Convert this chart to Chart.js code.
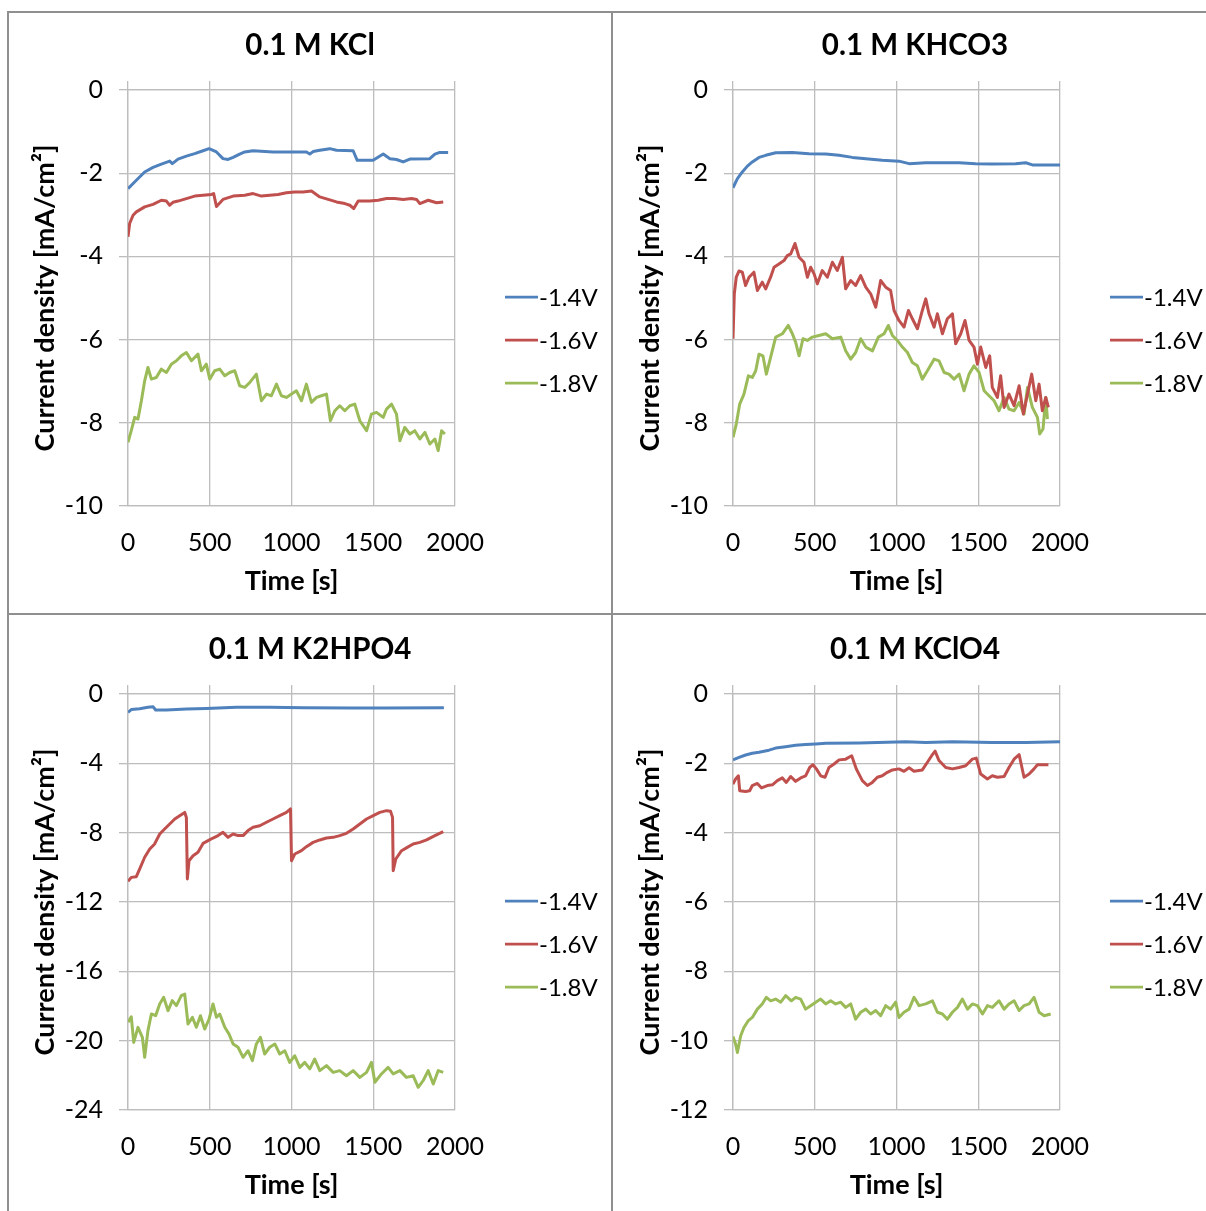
<!DOCTYPE html>
<html>
<head>
<meta charset="utf-8">
<script src="https://cdn.jsdelivr.net/npm/chart.js@4/dist/chart.umd.min.js"></script>
<style>
  html, body { margin: 0; padding: 0; background: #fff; overflow: hidden; width: 1206px; height: 1211px; }
  canvas { position: absolute; }
  .line { position: absolute; background: #8f8f8f; z-index: 2; }
</style>
</head>
<body>
<canvas id="kcl" width="604" height="603" style="left:8px;top:11px"></canvas>
<canvas id="khco3" width="604" height="603" style="left:613px;top:11px"></canvas>
<canvas id="k2hpo4" width="604" height="603" style="left:8px;top:615px"></canvas>
<canvas id="kclo4" width="604" height="603" style="left:613px;top:615px"></canvas>
<div class="line" style="left:7px;top:11px;width:1300px;height:2px"></div>
<div class="line" style="left:7px;top:11px;width:2px;height:1300px"></div>
<div class="line" style="left:611px;top:11px;width:2px;height:1300px"></div>
<div class="line" style="left:7px;top:613px;width:1300px;height:2px"></div>
<script>
// chronoamperometry, [time s, current density mA/cm2]
const seriesLabels = ['-1.4V', '-1.6V', '-1.8V'];
const seriesColors = ['#4F81BD', '#C0504D', '#9BBB59'];

// 0.1 M KCl
const kcl14 = [[0,-2.37],[51,-2.17],[102,-1.97],[153,-1.86],[204,-1.78],[255,-1.71],[271,-1.77],[306,-1.66],[357,-1.59],[408,-1.53],[459,-1.46],[496,-1.41],[541,-1.49],[581,-1.65],[612,-1.67],[643,-1.62],[683,-1.54],[714,-1.49],[765,-1.46],[887,-1.49],[1091,-1.49],[1112,-1.54],[1132,-1.48],[1173,-1.45],[1234,-1.41],[1275,-1.45],[1377,-1.46],[1402,-1.69],[1499,-1.69],[1561,-1.54],[1602,-1.65],[1642,-1.67],[1683,-1.73],[1724,-1.66],[1846,-1.65],[1877,-1.54],[1907,-1.50],[1958,-1.50]];
const kcl16 = [[0,-3.53],[10,-3.21],[31,-3.01],[51,-2.93],[102,-2.81],[153,-2.75],[204,-2.65],[235,-2.67],[255,-2.77],[275,-2.70],[306,-2.67],[357,-2.61],[408,-2.55],[459,-2.53],[510,-2.51],[524,-2.49],[541,-2.80],[581,-2.63],[643,-2.55],[714,-2.53],[765,-2.49],[816,-2.55],[867,-2.53],[918,-2.51],[969,-2.47],[1020,-2.45],[1071,-2.45],[1122,-2.43],[1173,-2.57],[1224,-2.63],[1275,-2.69],[1326,-2.73],[1357,-2.77],[1381,-2.85],[1408,-2.67],[1479,-2.67],[1530,-2.65],[1581,-2.61],[1632,-2.61],[1683,-2.63],[1734,-2.61],[1765,-2.63],[1785,-2.73],[1836,-2.65],[1887,-2.71],[1928,-2.69]];
const kcl18 = [[0,-8.47],[20,-8.19],[41,-7.87],[61,-7.91],[82,-7.47],[102,-6.99],[122,-6.67],[143,-6.95],[173,-6.91],[204,-6.71],[235,-6.79],[265,-6.59],[296,-6.51],[326,-6.39],[357,-6.31],[388,-6.51],[428,-6.35],[449,-6.75],[479,-6.59],[500,-6.95],[530,-6.75],[561,-6.71],[592,-6.87],[622,-6.79],[653,-6.75],[683,-7.11],[714,-7.15],[745,-7.03],[785,-6.83],[816,-7.47],[847,-7.31],[877,-7.35],[908,-7.07],[938,-7.35],[969,-7.39],[1000,-7.31],[1030,-7.23],[1061,-7.47],[1091,-7.07],[1122,-7.51],[1153,-7.39],[1183,-7.35],[1214,-7.31],[1238,-7.95],[1265,-7.71],[1295,-7.59],[1326,-7.71],[1357,-7.59],[1387,-7.55],[1418,-7.95],[1459,-8.19],[1489,-7.79],[1520,-7.75],[1561,-7.87],[1581,-7.67],[1612,-7.55],[1642,-7.79],[1663,-8.43],[1693,-8.11],[1724,-8.27],[1754,-8.19],[1785,-8.39],[1816,-8.23],[1846,-8.51],[1877,-8.39],[1897,-8.67],[1918,-8.19],[1938,-8.27]];

// 0.1 M KHCO3
const khco314 = [[0,-2.35],[27,-2.13],[57,-1.97],[88,-1.83],[118,-1.73],[159,-1.62],[200,-1.57],[261,-1.51],[363,-1.50],[465,-1.53],[567,-1.54],[648,-1.57],[730,-1.62],[812,-1.65],[913,-1.69],[1015,-1.71],[1077,-1.77],[1179,-1.75],[1382,-1.75],[1484,-1.77],[1586,-1.78],[1729,-1.77],[1790,-1.75],[1831,-1.80],[2000,-1.80]];
const khco316 = [[0,-5.98],[8,-4.90],[20,-4.50],[37,-4.35],[57,-4.38],[77,-4.70],[98,-4.50],[128,-4.38],[149,-4.82],[179,-4.62],[200,-4.78],[230,-4.50],[251,-4.26],[281,-4.18],[312,-4.10],[332,-3.98],[353,-3.94],[379,-3.69],[404,-4.02],[434,-4.14],[455,-4.50],[475,-4.26],[496,-4.42],[516,-4.66],[546,-4.34],[577,-4.50],[608,-4.14],[638,-4.34],[669,-4.02],[689,-4.78],[720,-4.58],[750,-4.70],[781,-4.46],[812,-4.74],[842,-4.90],[873,-5.22],[903,-4.58],[934,-4.74],[964,-4.82],[985,-5.30],[1015,-5.54],[1046,-5.70],[1073,-5.30],[1097,-5.50],[1128,-5.74],[1158,-5.30],[1179,-5.02],[1199,-5.38],[1230,-5.70],[1250,-5.38],[1281,-5.86],[1311,-5.50],[1342,-5.38],[1362,-6.10],[1393,-5.86],[1419,-5.54],[1444,-6.02],[1474,-6.18],[1495,-6.59],[1515,-6.18],[1546,-6.67],[1570,-6.39],[1586,-7.15],[1617,-7.39],[1637,-6.87],[1658,-7.63],[1688,-7.31],[1719,-7.59],[1750,-7.11],[1776,-7.79],[1801,-7.31],[1827,-6.83],[1852,-7.47],[1872,-7.07],[1892,-7.71],[1913,-7.39],[1929,-7.63]];
const khco318 = [[0,-8.35],[20,-8.03],[41,-7.55],[67,-7.31],[94,-6.87],[118,-6.91],[139,-6.75],[159,-6.35],[183,-6.39],[204,-6.83],[230,-6.43],[261,-5.94],[302,-5.86],[338,-5.66],[363,-5.86],[383,-6.06],[404,-6.39],[428,-5.98],[455,-6.02],[485,-5.94],[526,-5.90],[567,-5.86],[608,-5.98],[659,-5.94],[689,-6.27],[720,-6.47],[750,-6.31],[781,-5.98],[812,-6.18],[853,-6.27],[889,-5.94],[924,-5.86],[950,-5.66],[975,-5.90],[1005,-6.02],[1036,-6.18],[1067,-6.31],[1097,-6.55],[1128,-6.63],[1158,-6.95],[1189,-6.75],[1230,-6.47],[1260,-6.51],[1291,-6.79],[1321,-6.83],[1352,-6.95],[1383,-6.83],[1413,-7.23],[1444,-6.83],[1474,-6.63],[1505,-6.79],[1536,-7.23],[1566,-7.35],[1597,-7.47],[1627,-7.71],[1658,-7.39],[1688,-7.67],[1719,-7.71],[1750,-7.51],[1780,-7.79],[1801,-7.15],[1831,-7.63],[1862,-7.87],[1876,-8.27],[1896,-8.15],[1913,-7.39],[1923,-7.91]];

// 0.1 M K2HPO4
const k2hpo414 = [[0,-1.06],[20,-0.90],[71,-0.85],[122,-0.77],[153,-0.73],[169,-0.92],[235,-0.92],[357,-0.87],[479,-0.83],[663,-0.77],[867,-0.77],[1071,-0.79],[1377,-0.81],[1581,-0.81],[1932,-0.79]];
const k2hpo416 = [[0,-10.81],[20,-10.58],[51,-10.54],[71,-10.10],[102,-9.42],[133,-8.94],[163,-8.65],[194,-8.08],[224,-7.79],[255,-7.50],[286,-7.21],[316,-7.02],[347,-6.83],[357,-7.12],[363,-10.67],[373,-9.62],[398,-9.33],[428,-9.13],[459,-8.62],[490,-8.46],[520,-8.31],[551,-8.17],[581,-7.98],[612,-8.27],[643,-8.08],[673,-8.17],[704,-8.17],[734,-7.88],[765,-7.69],[806,-7.60],[847,-7.40],[887,-7.21],[928,-7.02],[969,-6.83],[994,-6.63],[1000,-9.62],[1020,-9.23],[1061,-9.04],[1091,-8.81],[1132,-8.56],[1173,-8.42],[1214,-8.31],[1255,-8.27],[1295,-8.17],[1336,-8.04],[1377,-7.79],[1418,-7.50],[1459,-7.21],[1500,-7.02],[1540,-6.83],[1581,-6.73],[1606,-6.77],[1618,-7.12],[1622,-10.19],[1638,-9.52],[1673,-9.04],[1703,-8.88],[1744,-8.65],[1785,-8.56],[1826,-8.42],[1877,-8.17],[1928,-7.94]];
const k2hpo418 = [[0,-18.94],[20,-18.62],[35,-20.10],[61,-19.23],[88,-19.81],[102,-20.96],[122,-19.42],[143,-18.46],[169,-18.56],[194,-17.88],[218,-17.50],[245,-18.27],[271,-17.69],[296,-17.98],[326,-17.40],[347,-17.31],[367,-19.04],[394,-18.65],[418,-19.23],[443,-18.56],[469,-19.33],[496,-18.75],[520,-17.88],[541,-18.65],[561,-18.46],[592,-19.23],[618,-19.62],[643,-20.19],[673,-20.38],[704,-20.96],[734,-20.58],[761,-21.15],[785,-20.19],[810,-19.81],[836,-20.77],[867,-20.38],[898,-20.19],[928,-20.77],[959,-20.58],[989,-21.25],[1020,-20.87],[1051,-21.54],[1081,-21.25],[1112,-21.63],[1142,-21.06],[1173,-21.73],[1214,-21.44],[1255,-21.83],[1295,-21.73],[1336,-22.02],[1377,-21.73],[1418,-22.12],[1459,-21.83],[1489,-21.25],[1510,-22.40],[1550,-21.92],[1591,-21.54],[1622,-21.92],[1663,-21.73],[1703,-22.12],[1744,-22.02],[1775,-22.69],[1805,-22.31],[1836,-21.73],[1867,-22.50],[1897,-21.73],[1928,-21.83]];

// 0.1 M KClO4
const kclo414 = [[0,-1.90],[37,-1.83],[77,-1.76],[118,-1.71],[159,-1.68],[220,-1.62],[261,-1.56],[322,-1.52],[383,-1.48],[444,-1.46],[506,-1.44],[567,-1.42],[771,-1.41],[1056,-1.38],[1179,-1.40],[1342,-1.38],[1586,-1.40],[1790,-1.40],[2000,-1.38]];
const kclo416 = [[0,-2.60],[16,-2.45],[33,-2.36],[41,-2.79],[77,-2.81],[102,-2.79],[118,-2.64],[149,-2.58],[175,-2.71],[210,-2.64],[241,-2.62],[271,-2.50],[302,-2.42],[326,-2.55],[353,-2.38],[383,-2.52],[414,-2.42],[444,-2.36],[469,-2.12],[489,-2.04],[510,-2.16],[536,-2.36],[563,-2.40],[587,-2.12],[618,-2.02],[649,-1.90],[689,-1.88],[726,-1.78],[754,-2.16],[791,-2.50],[822,-2.64],[852,-2.55],[883,-2.40],[913,-2.36],[944,-2.26],[975,-2.19],[1015,-2.16],[1046,-2.23],[1077,-2.13],[1107,-2.23],[1158,-2.19],[1189,-1.97],[1215,-1.78],[1236,-1.65],[1260,-1.92],[1301,-2.12],[1342,-2.16],[1383,-2.12],[1423,-2.07],[1464,-1.88],[1488,-1.85],[1515,-2.31],[1556,-2.45],[1586,-2.36],[1617,-2.40],[1658,-2.38],[1688,-2.12],[1719,-1.88],[1750,-1.75],[1780,-2.40],[1811,-2.31],[1841,-2.16],[1862,-2.04],[1929,-2.04]];
const kclo418 = [[0,-9.88],[16,-10.10],[27,-10.34],[47,-9.86],[67,-9.62],[94,-9.42],[118,-9.33],[149,-9.09],[179,-8.94],[204,-8.75],[230,-8.85],[261,-8.80],[292,-8.89],[322,-8.70],[357,-8.85],[383,-8.75],[414,-8.80],[444,-9.09],[475,-8.99],[506,-8.89],[536,-8.80],[567,-8.94],[597,-8.85],[628,-8.94],[659,-8.89],[689,-9.04],[720,-8.94],[750,-9.38],[781,-9.18],[812,-9.09],[842,-9.23],[873,-9.13],[903,-9.28],[934,-8.99],[964,-9.09],[995,-8.89],[1015,-9.33],[1046,-9.18],[1077,-9.09],[1107,-8.75],[1138,-8.99],[1179,-8.94],[1220,-8.85],[1250,-9.18],[1281,-9.23],[1311,-9.38],[1342,-9.18],[1373,-9.04],[1403,-8.80],[1434,-9.09],[1464,-8.94],[1495,-8.99],[1526,-9.23],[1556,-8.99],[1586,-9.04],[1627,-8.85],[1658,-9.09],[1688,-8.94],[1719,-8.85],[1750,-9.13],[1780,-8.99],[1811,-8.94],[1841,-8.75],[1872,-9.18],[1903,-9.28],[1943,-9.23]];

const FONT = 'Lato, "Open Sans", sans-serif';
const GRID = '#bdbdbd';

// title above the plot and the line legend to its right
const panelText = {
  id: 'panelText',
  afterDraw(chart, args, opts) {
    const ctx = chart.ctx;
    ctx.save();
    ctx.fillStyle = '#000';
    ctx.font = 'bold 29.5px ' + FONT;
    ctx.textAlign = 'center';
    ctx.textBaseline = 'middle';
    ctx.fillText(opts.title, chart.width / 2, 34);

    ctx.font = '24px ' + FONT;
    ctx.textAlign = 'left';
    chart.data.datasets.forEach((ds, i) => {
      const y = 286 + i * 43;
      ctx.strokeStyle = ds.borderColor;
      ctx.lineWidth = 2.75;
      ctx.beginPath();
      ctx.moveTo(497, y);
      ctx.lineTo(530, y);
      ctx.stroke();
      ctx.fillText(ds.label, 531, y + 1);
    });
    ctx.restore();
  }
};

function makePanel(id, title, series, yMin, yStep) {
  new Chart(document.getElementById(id), {
    type: 'line',
    data: {
      datasets: series.map((pts, i) => ({
        label: seriesLabels[i],
        data: pts.map(p => ({ x: p[0], y: p[1] })),
        borderColor: seriesColors[i],
        borderWidth: 3,
        borderJoinStyle: 'round',
        pointRadius: 0,
        tension: 0,
        fill: false
      }))
    },
    options: {
      responsive: false,
      animation: false,
      layout: { padding: { left: 0, top: 70, right: 157, bottom: 0 } },
      plugins: {
        legend: { display: false },
        tooltip: { enabled: false },
        panelText: { title: title }
      },
      scales: {
        x: {
          type: 'linear',
          position: 'bottom',
          min: 0,
          max: 2000,
          ticks: {
            stepSize: 500,
            autoSkip: false,
            maxRotation: 0,
            padding: 22,
            color: '#000',
            font: { family: FONT, size: 25 },
            callback: v => String(v)
          },
          grid: { color: GRID, lineWidth: 1.3, drawTicks: false },
          border: { color: GRID, width: 1.3 },
          title: {
            display: true,
            text: 'Time [s]',
            color: '#000',
            font: { family: FONT, size: 27, weight: 'bold' },
            padding: { top: 0, bottom: 17 }
          },
          afterFit: s => { s.height = 108; }
        },
        xTop: {
          type: 'linear',
          position: 'top',
          min: 0,
          max: 2000,
          ticks: { display: false, stepSize: 500 },
          grid: { drawOnChartArea: false, tickLength: 9, color: GRID, lineWidth: 1.3 },
          border: { color: GRID, width: 1.3 },
          afterFit: s => { s.height = 9; }
        },
        y: {
          min: yMin,
          max: 0,
          ticks: {
            stepSize: yStep,
            padding: 16,
            color: '#000',
            font: { family: FONT, size: 25 },
            callback: v => String(v)
          },
          grid: { color: GRID, lineWidth: 1.3, tickLength: 9 },
          border: { color: GRID, width: 1.3 },
          title: {
            display: true,
            text: 'Current density [mA/cm²]',
            color: '#000',
            font: { family: FONT, size: 27, weight: 'bold' },
            padding: { top: 21, bottom: 0 }
          },
          afterFit: s => { s.width = 120; }
        }
      }
    },
    plugins: [panelText]
  });
}

makePanel('kcl', '0.1 M KCl', [kcl14, kcl16, kcl18], -10, 2);
makePanel('khco3', '0.1 M KHCO3', [khco314, khco316, khco318], -10, 2);
makePanel('k2hpo4', '0.1 M K2HPO4', [k2hpo414, k2hpo416, k2hpo418], -24, 4);
makePanel('kclo4', '0.1 M KClO4', [kclo414, kclo416, kclo418], -12, 2);
</script>
</body>
</html>
